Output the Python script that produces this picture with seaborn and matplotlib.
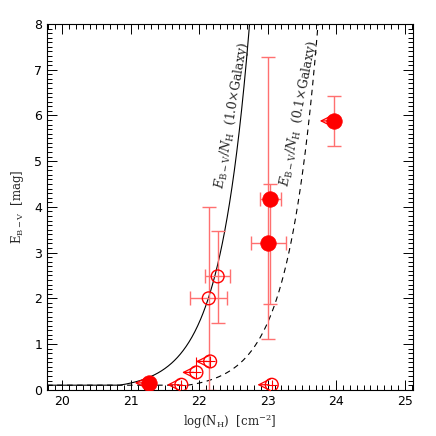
import numpy as np
import pandas as pd
import matplotlib
matplotlib.use("Agg")
import matplotlib.pyplot as plt
import seaborn as sns
from matplotlib.ticker import MultipleLocator

# ---------------- data ----------------
# filled circles (detections)
det_x = [21.27, 23.04, 23.01, 23.97]
det_y = [0.15, 4.18, 3.20, 5.88]
det_xerr = [0.0, 0.15, 0.26, 0.0]
det_yerr_lo = [0.0, 2.30, 2.08, 0.54]
det_yerr_hi = [0.0, 0.31, 4.07, 0.55]
det_limit = [True, False, False, True]

# open circles
opn_x = [22.14, 22.27, 22.16, 21.96, 21.74, 23.06]
opn_y = [2.00, 2.48, 0.62, 0.38, 0.11, 0.11]
opn_xerr = [0.27, 0.18, 0.07, 0.07, 0.07, 0.07]
opn_yerr_lo = [2.00, 1.01, 0.12, 0.12, 0.11, 0.11]
opn_yerr_hi = [2.00, 1.00, 0.12, 0.34, 0.11, 0.11]
opn_limit = [False, False, True, True, True, True]

# Galactic gas-to-dust ratio curves N_H / E(B-V)
gal_ratio = 6.8e21
curve_scales = [1.0, 0.1]
curve_labels = [r"$E_{\rm B-V}/N_{\rm H}$  (1.0$\times$Galaxy)",
                r"$E_{\rm B-V}/N_{\rm H}$  (0.1$\times$Galaxy)"]
curve_floor = 0.1
xgrid = np.linspace(19.78, 24.0, 600)

# ---------------- figure ----------------
sns.set_theme(style="ticks")
plt.rcParams["font.family"] = ["DejaVu Serif"]
plt.rcParams["mathtext.fontset"] = "dejavuserif"

fig = plt.figure(figsize=(4.36, 4.36), dpi=100)
ax = fig.add_axes([0.108, 0.106, 0.839, 0.839])

red = "#ff0000"
ebar = "#ff7070"

# curves
styles = ["-", "--"]
for s, ls in zip(curve_scales, styles):
    e = np.maximum(10 ** xgrid / (gal_ratio / s), curve_floor)
    df = pd.DataFrame({"x": xgrid, "y": e})
    sns.lineplot(data=df, x="x", y="y", ax=ax, color="black", lw=0.8,
                 sort=False, estimator=None)
    if ls == "--":
        ax.lines[-1].set_dashes([5, 4])

# error bars
ax.errorbar(det_x, det_y, xerr=det_xerr, yerr=[det_yerr_lo, det_yerr_hi],
            fmt="none", ecolor=ebar, elinewidth=1.0, capsize=5, capthick=1.0, zorder=2)
big = [i for i, l in enumerate(opn_limit) if not l]
small = [i for i, l in enumerate(opn_limit) if l]
ax.errorbar([opn_x[i] for i in big], [opn_y[i] for i in big],
            xerr=[opn_xerr[i] for i in big],
            yerr=[[opn_yerr_lo[i] for i in big], [opn_yerr_hi[i] for i in big]],
            fmt="none", ecolor=ebar, elinewidth=1.0, capsize=5, capthick=1.0, zorder=2)
ax.errorbar([opn_x[i] for i in small], [opn_y[i] for i in small],
            xerr=[opn_xerr[i] for i in small],
            yerr=[[opn_yerr_lo[i] for i in small], [opn_yerr_hi[i] for i in small]],
            fmt="none", ecolor=red, elinewidth=0.8, capsize=0, zorder=2)

# upper-limit arrows (pointing to lower N_H)
arrow_len = 0.25
for xs, ys, lims in [(det_x, det_y, det_limit), (opn_x, opn_y, opn_limit)]:
    for x, y, l in zip(xs, ys, lims):
        if l:
            ax.annotate("", xy=(x - arrow_len, y), xytext=(x, y),
                        arrowprops=dict(arrowstyle="->,head_length=0.7,head_width=0.35",
                                        color=red, lw=0.9), zorder=3)

# markers
sns.scatterplot(x=opn_x, y=opn_y, ax=ax, marker="o", s=85,
                facecolor="none", edgecolor=red, linewidth=1.0, zorder=4)
sns.scatterplot(x=det_x, y=det_y, ax=ax, marker="o", s=125,
                color=red, edgecolor=red, linewidth=0.5, zorder=5)

# curve labels
ax.text(22.48, 6.0, curve_labels[0], rotation=80.5,
        fontsize=9, ha="center", va="center")
ax.text(23.46, 6.05, curve_labels[1], rotation=79,
        fontsize=9, ha="center", va="center")

# axes
ax.set_xlim(19.78, 25.12)
ax.set_ylim(0, 8)
ax.xaxis.set_major_locator(MultipleLocator(1))
ax.xaxis.set_minor_locator(MultipleLocator(0.1))
ax.yaxis.set_major_locator(MultipleLocator(1))
ax.yaxis.set_minor_locator(MultipleLocator(0.1))
ax.tick_params(which="both", direction="in", top=True, right=True, colors="black",
               labelsize=9, width=0.7)
ax.tick_params(which="major", length=7)
ax.tick_params(which="minor", length=3.5)
for lab in ax.get_xticklabels() + ax.get_yticklabels():
    lab.set_family("DejaVu Sans")
for sp in ax.spines.values():
    sp.set_linewidth(0.8)
    sp.set_color("black")
    sp.set_visible(True)
ax.set_xlabel(r"log(N$_{\rm H}$)  [cm$^{-2}$]", fontsize=8.5, labelpad=3)
ax.set_ylabel(r"E$_{\rm B-V}$  [mag]", fontsize=8.5, labelpad=6)

fig.savefig("out.png", dpi=100)
